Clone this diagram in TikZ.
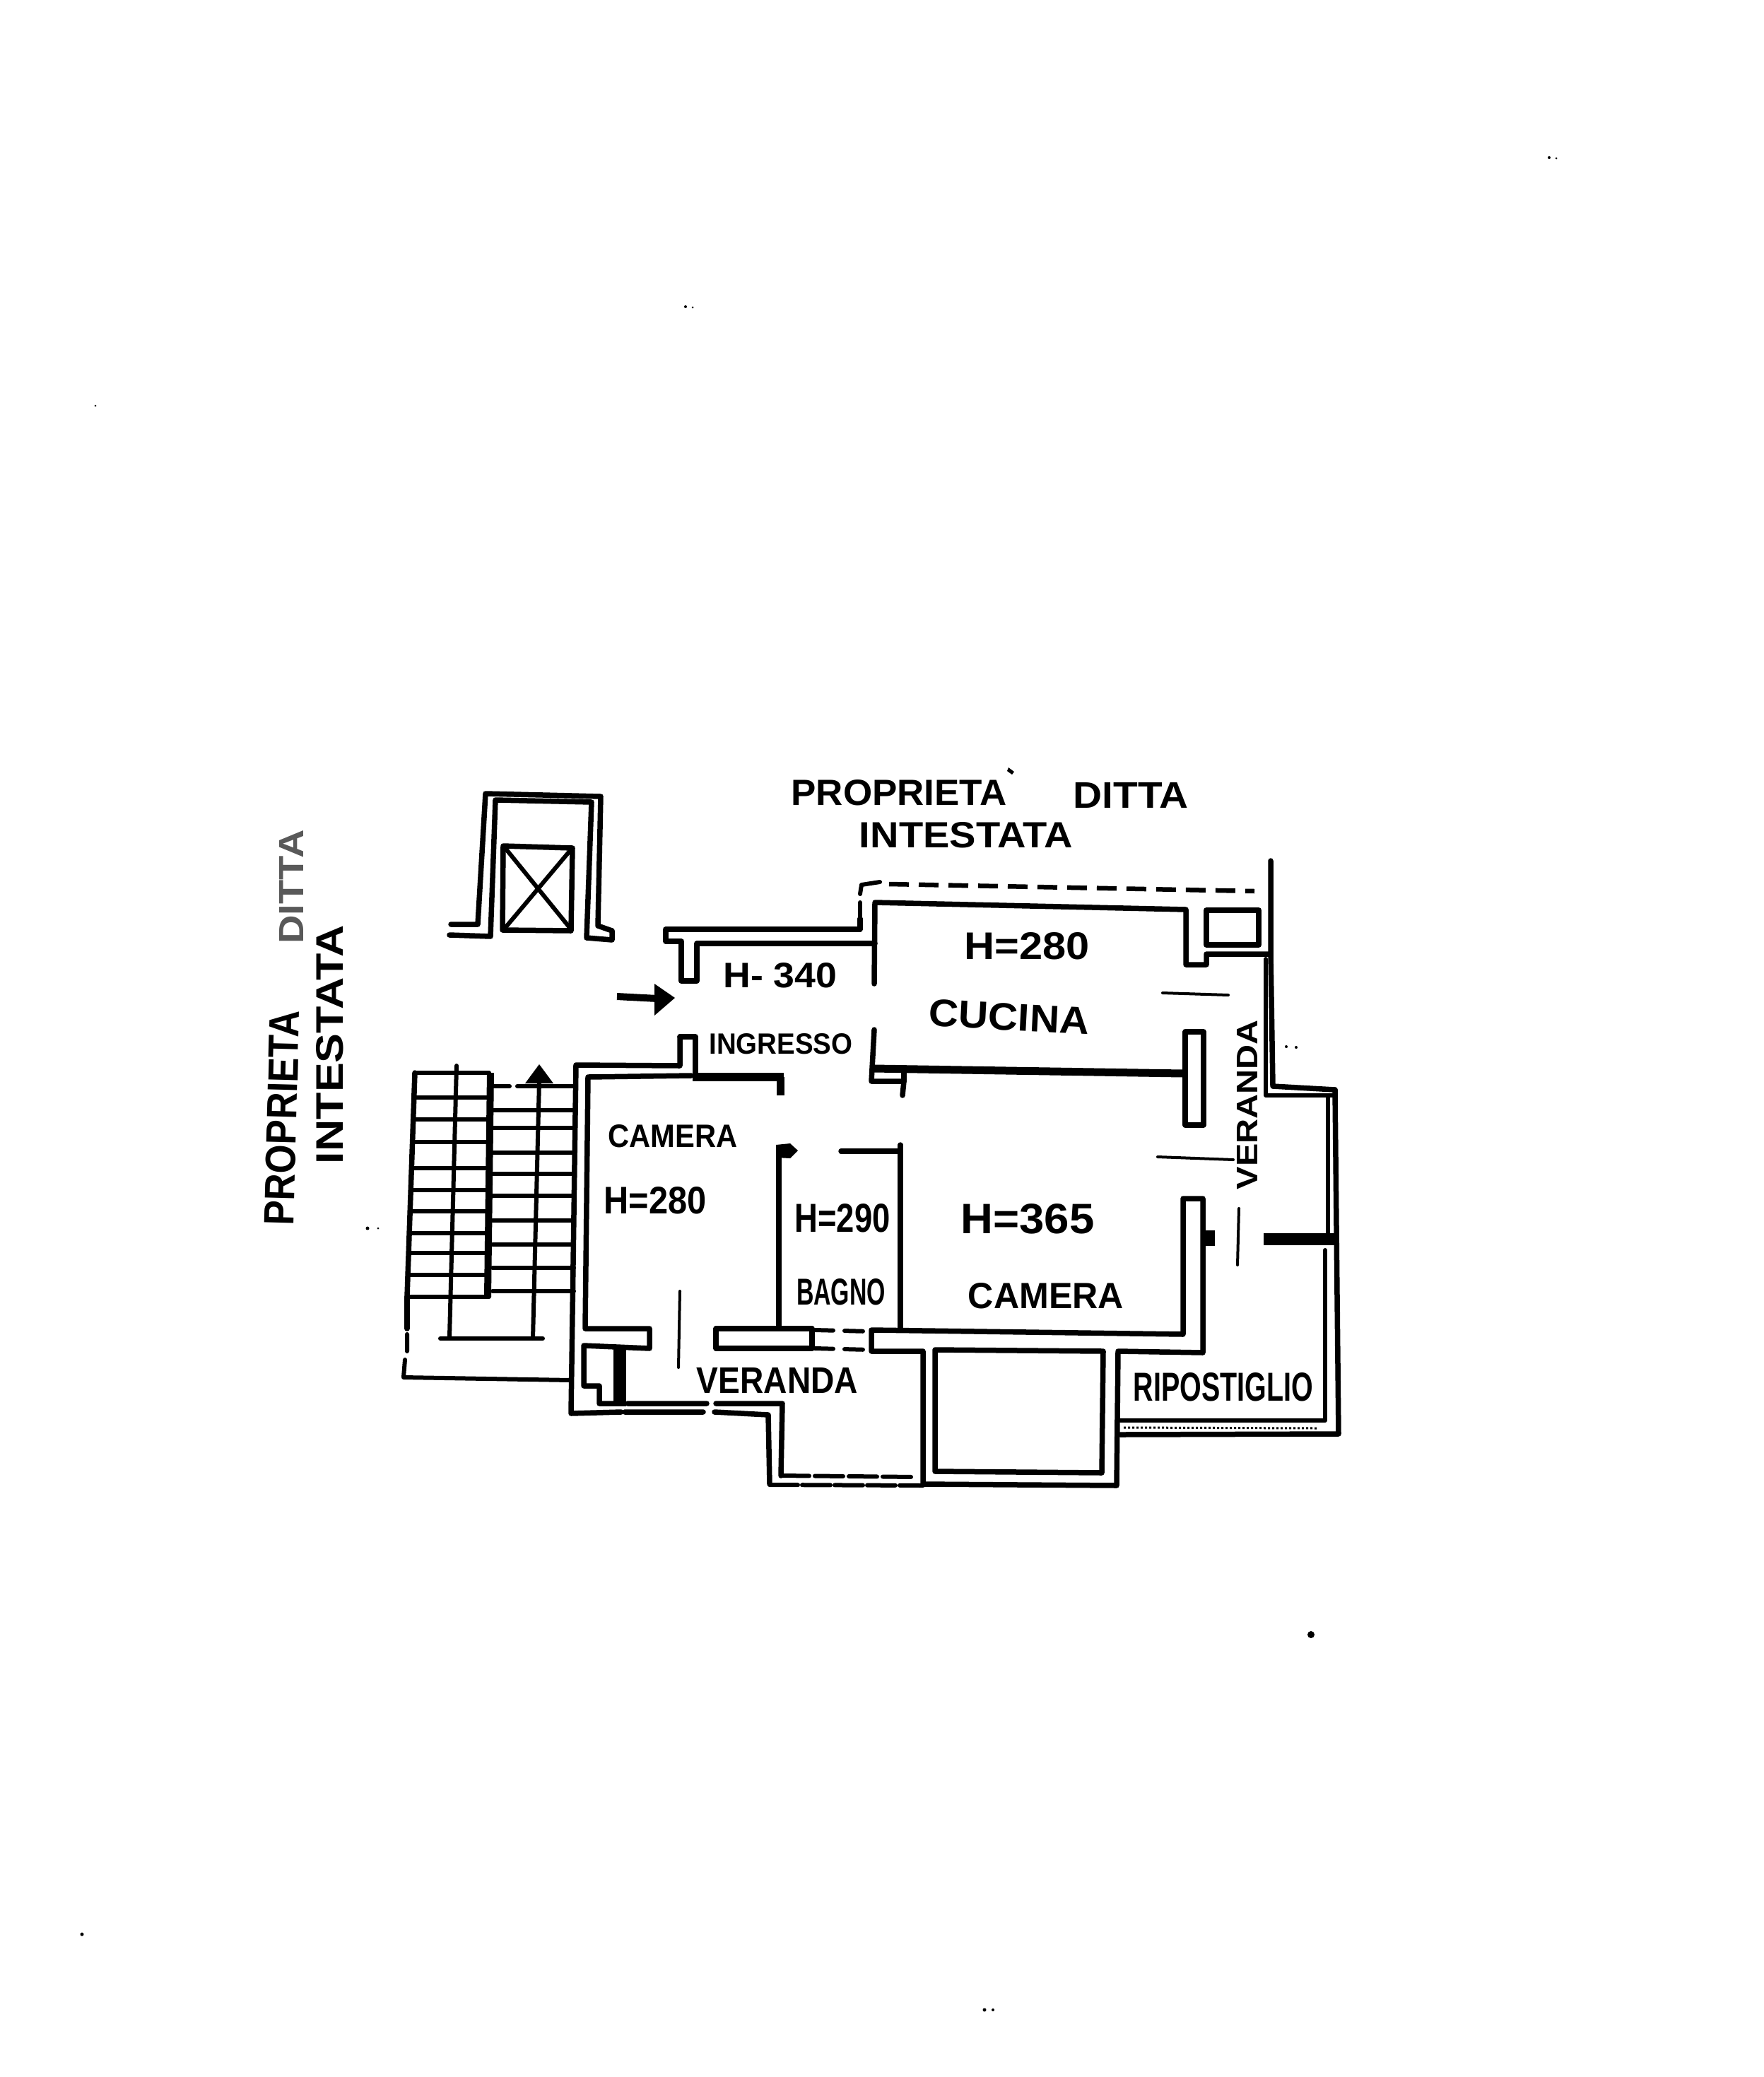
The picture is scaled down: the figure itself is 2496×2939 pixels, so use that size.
\documentclass[tikz,border=0pt]{standalone}
\usepackage{graphicx}
\usepackage{fontspec}
\setmainfont{Liberation Sans}[BoldFont={Liberation Sans Bold}]
\tikzset{
  wall/.style={line width=7.5pt,line join=round,line cap=round,black},
  thinwall/.style={line width=6pt,line join=round,line cap=round,black},
  hair/.style={line width=4pt,line cap=round,black},
  heavy/.style={line width=10pt,line cap=butt,black},
  brokenline/.style={line width=6.5pt,dash pattern=on 28pt off 14pt,black},
  lbl/.style={inner sep=0pt,outer sep=0pt,font=\bfseries,black},
  speck/.style={fill=black,draw=none}
}
\newcommand{\fitlab}[3]{\resizebox{#1pt}{#2pt}{#3}}
\begin{document}
\begin{tikzpicture}[x=1pt,y=-1pt]
\useasboundingbox (0,0) rectangle (2496,2939);
\fill[white] (0,0) rectangle (2496,2939);
% lift shaft
\draw[wall] (638,1308) -- (676,1308) -- (687,1123) -- (850,1127) -- (846,1310) -- (866,1317) -- (866,1330) -- (830,1327) -- (837,1135) -- (701,1132) -- (694,1325) -- (636,1323);
\draw[wall] (712,1197) -- (810,1200) -- (808,1317) -- (711,1316) -- cycle;
\draw[thinwall] (714,1199) -- (808,1315) (808,1202) -- (713,1315);
% entrance upper wall and dashed line
\draw[wall] (1217,1300) -- (1217,1315) -- (942,1315) -- (942,1332) -- (964,1332) -- (964,1388) -- (986,1388) -- (986,1335) -- (1238,1335);
\draw[thinwall] (1217,1277) -- (1217,1300);
\draw[thinwall] (1217,1265) -- (1219,1252) -- (1245,1248);
\draw[brokenline] (1258,1251) -- (1775,1261);
% kitchen
\draw[wall] (1237,1392) -- (1238,1277) -- (1678,1287) -- (1678,1365) -- (1707,1365) -- (1707,1350) -- (1798,1350);
\draw[wall] (1707,1288) rectangle (1781,1337);
\draw[wall] (1798,1218) -- (1798,1350) -- (1801,1537) -- (1889,1542);
\draw[thinwall] (1791,1357) -- (1791,1550) -- (1889,1550);
% kitchen bottom wall
\draw[wall] (1237,1457) -- (1233,1530) -- (1279,1530) -- (1277,1550);
\draw[wall] (1237,1512) -- (1279,1512) -- (1279,1530);
\draw[line width=11pt,black] (1237,1512) -- (1674,1519);
% pier
\draw[wall] (1677,1460) rectangle (1703,1592);
% right camera
\draw[wall] (1190,1629) -- (1274,1629) -- (1274,1880);
\draw[wall] (1274,1620) -- (1274,1640);
\draw[wall] (1674,1696) -- (1702,1696) -- (1702,1914) -- (1582,1912) -- (1580,2102) -- (1306,2100) -- (1306,1912) -- (1233,1912) -- (1233,1882) -- (1674,1888) -- cycle;
\fill[black] (1705,1741) rectangle (1719,1763);
% inner square
\draw[wall] (1323,1910) -- (1561,1912) -- (1559,2084) -- (1323,2082) -- cycle;
% right store
\draw[wall] (1889,1542) -- (1894,2029) -- (1585,2030);
\draw[thinwall] (1879,1553) -- (1879,1745);
\draw[thinwall] (1875,1769) -- (1875,2010) -- (1585,2010);
\draw[heavy,line width=17pt] (1788,1753) -- (1889,1753);
\draw[line width=3pt,black,dashed] (1590,2020) -- (1865,2021);
% left camera
\draw[wall] (962,1467) -- (962,1508) -- (815,1507) -- (808,2000) -- (879,1998);
\draw[wall] (962,1467) -- (984,1467) -- (984,1518);
\draw[wall] (978,1522) -- (832,1524) -- (828,1880) -- (919,1880) -- (919,1908) -- (826,1904) -- (826,1961) -- (848,1961) -- (848,1986) -- (875,1986);
\draw[line width=12pt,black] (980,1524) -- (1109,1524);
\draw[line width=11pt,black] (1104,1524) -- (1104,1550);
\fill[black] (868,1908) rectangle (886,1990);
% bathroom wall and veranda lower wall
\draw[wall] (1102,1625) -- (1102,1880);
\fill[black] (1098,1620) -- (1118,1618) -- (1129,1628) -- (1118,1639) -- (1098,1638) -- cycle;
\draw[wall] (1013,1880) -- (1149,1880) -- (1149,1908) -- (1013,1908) -- cycle;
\draw[thinwall,dash pattern=on 26pt off 16pt] (1153,1882) -- (1231,1884);
\draw[thinwall,dash pattern=on 26pt off 16pt] (1153,1908) -- (1231,1910);
\draw[wall] (888,1986) -- (1000,1986) (1013,1986) -- (1107,1986) -- (1105,2088);
\draw[thinwall,dash pattern=on 40pt off 8pt] (1105,2088) -- (1296,2090);
\draw[wall] (884,1998) -- (995,1998) (1011,1998) -- (1087,2002) -- (1089,2100);
\draw[thinwall,dash pattern=on 40pt off 6pt] (1089,2101) -- (1306,2102);
% door lines
\draw[hair] (1645,1405) -- (1738,1408);
\draw[hair] (1638,1637) -- (1745,1641);
\draw[hair] (1753,1710) -- (1751,1790);
\draw[hair] (962,1827) -- (960,1935);
% stairs
\draw[wall] (587,1518) -- (576,1835);
\draw[thinwall] (576,1888) -- (576,1912) (573,1924) -- (571,1949) -- (808,1953);
\draw[wall] (576,1835) -- (576,1880);
\draw[line width=10pt,black] (694,1518) -- (690,1835);
\foreach \ya/\xa in {1518/587,1553/586,1584/585,1616/583,1653/582,1684/581,1714/580,1745/579,1773/578,1804/577,1835/576}
  \draw[thinwall] (\xa,\ya) -- (692,\ya);
\draw[thinwall] (646,1508) -- (636,1892);
\draw[thinwall] (623,1894) -- (768,1894);
\draw[thinwall] (763,1530) -- (754,1894);
\fill[black] (763,1506) -- (783,1533) -- (743,1533) -- cycle;
\draw[thinwall] (694,1537) -- (721,1537) (732,1537) -- (815,1537);
\foreach \yb in {1571,1596,1631,1661,1692,1727,1761,1794,1827}
  \draw[thinwall] (697,\yb) -- (812,\yb);
% entry arrow
\draw[line width=10pt,black] (873,1410) -- (930,1413);
\fill[black] (926,1392) -- (955,1412) -- (926,1437) -- cycle;
% texts
\node[lbl] (t1) at (1272,1122) {\fitlab{305}{36}{PROPRIETA}};
\fill[black] (1427,1086) -- (1435,1092) -- (1432,1096) -- (1425,1091) -- cycle;
\node[lbl] (t2) at (1600,1125) {\fitlab{163}{36}{DITTA}};
\node[lbl] (t3) at (1367,1182) {\fitlab{302}{36}{INTESTATA}};
\node[lbl] (t4) at (1453,1339) {\fitlab{177}{38}{H=280}};
\node[lbl,rotate=-3] (t5) at (1428,1439) {\fitlab{227}{38}{CUCINA}};
\node[lbl] (t6) at (1104,1380) {\fitlab{161}{35}{H- 340}};
\node[lbl] (t7) at (1105,1477) {\fitlab{203}{29}{INGRESSO}};
\node[lbl] (t8) at (952,1608) {\fitlab{183}{32}{CAMERA}};
\node[lbl] (t9) at (927,1699) {\fitlab{145}{38}{H=280}};
\node[lbl] (t10) at (1192,1724) {\fitlab{135}{40}{H=290}};
\node[lbl] (t11) at (1190,1828) {\fitlab{126}{37}{BAGNO}};
\node[lbl] (t12) at (1454,1725) {\fitlab{189}{42}{H=365}};
\node[lbl] (t13) at (1480,1834) {\fitlab{220}{36}{CAMERA}};
\node[lbl] (t14) at (1100,1953) {\fitlab{228}{36}{VERANDA}};
\node[lbl] (t15) at (1731,1963) {\fitlab{254}{40}{RIPOSTIGLIO}};
\node[lbl,rotate=90] (t16) at (1765,1563) {\fitlab{240}{29}{VERANDA}};
\node[lbl,rotate=88.5] (t17) at (399,1582) {\fitlab{304}{42}{PROPRIETA}};
\node[lbl,rotate=90,text=black!65] (t18) at (412,1255) {\fitlab{161}{34}{DITTA}};
\node[lbl,rotate=90] (t19) at (467,1478) {\fitlab{338}{38}{INTESTATA}};
% specks
\fill[speck] (2192,223) circle (2pt) (2202,224) circle (1.5pt);
\fill[speck] (970,434) circle (2pt) (980,435) circle (1.5pt);
\fill[speck] (135,574) circle (1.5pt);
\fill[speck] (116,2737) circle (2.5pt);
\fill[speck] (1393,2844) circle (2.5pt) (1405,2844) circle (2pt);
\fill[speck] (1855,2313) circle (5pt);
\fill[speck] (1820,1481) circle (2pt) (1834,1482) circle (2pt);
\fill[speck] (520,1738) circle (2.5pt) (535,1738) circle (1.5pt);
\end{tikzpicture}
\end{document}
